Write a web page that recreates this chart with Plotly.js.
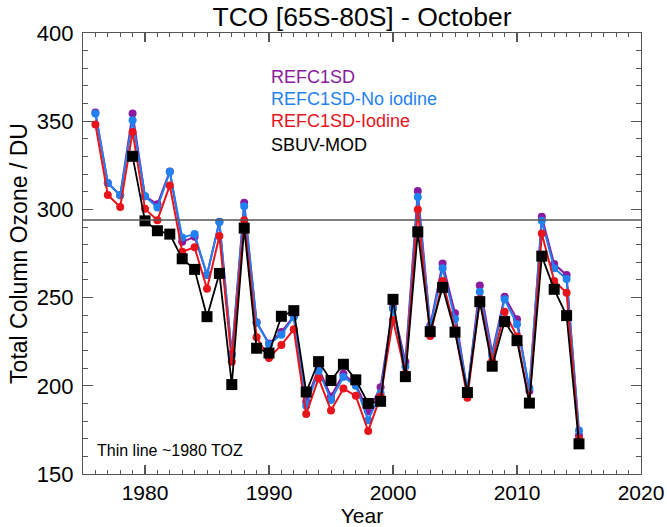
<!DOCTYPE html>
<html>
<head>
<meta charset="utf-8">
<script src="https://cdn.plot.ly/plotly-3.0.1.min.js"></script>
<style>
  html, body { margin: 0; padding: 0; background: #fff; }
  #plot { width: 667px; height: 527px; }
</style>
</head>
<body>
<div id="plot"></div>
<script>
// model years and SBUV years
let years = [];
for (let y = 1976; y <= 2015; y++) years.push(y);
let sbuvYears = years.slice(3); // 1979-2015

// values (DU)
let refc1sd = [355, 315, 308, 354.3, 307.5, 302.9, 321.5, 281.6, 284.5, 263,
  293, 218, 303.7, 236, 224, 230.5, 239.5, 191, 210, 194,
  206.8, 200.5, 185.5, 199.2, 244.5, 213.7, 310.5, 234, 269.4, 241.1,
  197, 256.8, 218.6, 250.5, 237.7, 197, 295.8, 269, 262.8, 172];

let noIodine = [354.3, 315, 308, 350.5, 307.5, 301.1, 321.3, 284.1, 286, 262.8,
  292.8, 217, 301.8, 235.8, 223.6, 229, 239, 188.7, 208.5, 192,
  205, 200, 180.5, 195.8, 243.7, 210.9, 307.1, 233, 266.6, 237.9,
  197, 253.3, 217, 249, 234.9, 198.7, 293.5, 266.6, 260.5, 174.7];

let iodine = [348.2, 308.2, 301.4, 343.9, 300.3, 293.9, 313.6, 276, 278.5, 255,
  284.9, 213.6, 293.9, 227.5, 215.7, 223.2, 232, 184, 204.2, 186,
  198.4, 194.3, 174.4, 194, 237.3, 207, 300, 228.3, 259.4, 232,
  193.2, 249, 214, 242, 227.9, 191, 286.4, 259.4, 252.8, 169.8];

let sbuv = [330.1, 293.5, 287.9, 286, 272, 266, 239.2, 263.7, 200.7, 289.4,
  221.3, 218.6, 239.4, 242.6, 196.5, 213.7, 203, 212.2, 203.4, 190,
  191.2, 249, 205.2, 287.3, 230.7, 255.8, 230.4, 196.2, 247.7, 211.1,
  236.4, 225.6, 190.2, 273.5, 254.7, 239.8, 167.1];

let toz1980 = 294; // thin reference line

let names = ['REFC1SD', 'REFC1SD-No iodine', 'REFC1SD-Iodine', 'SBUV-MOD'];
let colors = ['#8a1a9e', '#1f82f0', '#e8141c', '#000000'];

function modelTrace(yv, i) {
  return {
    x: years, y: yv, name: names[i], type: 'scatter', mode: 'lines+markers',
    line: {color: colors[i], width: 2},
    marker: {color: colors[i], size: 8, symbol: 'circle'},
  };
}

let data = [
  modelTrace(refc1sd, 0),
  modelTrace(noIodine, 1),
  modelTrace(iodine, 2),
  {
    x: sbuvYears, y: sbuv, name: names[3], type: 'scatter', mode: 'lines+markers',
    line: {color: colors[3], width: 1.8},
    marker: {color: colors[3], size: 11, symbol: 'square'},
  },
];

let fontFam = 'Liberation Sans, Arial, sans-serif';

let axisCommon = {
  showgrid: false, zeroline: false,
  showline: true, linecolor: '#555', linewidth: 1.2, mirror: 'allticks',
  ticks: 'inside', tickcolor: '#555', tickwidth: 1.2,
};

// legend as coloured text, like the original
let legY = [0.9, 0.85, 0.801, 0.746];
let annotations = names.map((n, i) => ({
  xref: 'paper', yref: 'paper', x: 0.334, y: legY[i],
  xanchor: 'left', yanchor: 'middle', showarrow: false,
  text: n, font: {family: fontFam, size: 18, color: colors[i]},
}));
annotations.push({
  xref: 'paper', yref: 'paper', x: 0.022, y: 0.053,
  xanchor: 'left', yanchor: 'middle', showarrow: false,
  text: 'Thin line ~1980 TOZ', font: {family: fontFam, size: 16, color: '#000'},
});

let layout = {
  width: 667, height: 527,
  margin: {l: 83, r: 26, t: 33, b: 53},
  paper_bgcolor: '#fff', plot_bgcolor: '#fff',
  showlegend: false,
  title: {
    text: 'TCO [65S-80S] - October',
    font: {family: fontFam, size: 26.5, color: '#000'},
    xref: 'paper', x: 0.5, xanchor: 'center',
    yref: 'container', y: 0.968, yanchor: 'middle',
  },
  xaxis: Object.assign({}, axisCommon, {
    range: [1975, 2020], tick0: 1980, dtick: 10, ticklen: 9,
    tickfont: {family: fontFam, size: 21, color: '#000'},
    minor: {dtick: 1, ticklen: 4, ticks: 'inside', tickcolor: '#555', tickwidth: 1},
    title: {text: 'Year', font: {family: fontFam, size: 21, color: '#000'}, standoff: 2},
  }),
  yaxis: Object.assign({}, axisCommon, {
    range: [150, 400], tick0: 150, dtick: 50, ticklen: 10,
    tickfont: {family: fontFam, size: 22, color: '#000'},
    ticklabelstandoff: 4,
    minor: {dtick: 10, ticklen: 5, ticks: 'inside', tickcolor: '#555', tickwidth: 1},
    title: {text: 'Total Column Ozone / DU', font: {family: fontFam, size: 23, color: '#000'}, standoff: 2},
  }),
  shapes: [{
    type: 'line', xref: 'paper', x0: 0, x1: 1, yref: 'y', y0: toz1980, y1: toz1980,
    line: {color: '#555', width: 1.5},
  }],
  annotations: annotations,
};

Plotly.newPlot('plot', data, layout, {displayModeBar: false, staticPlot: true});
</script>
</body>
</html>
